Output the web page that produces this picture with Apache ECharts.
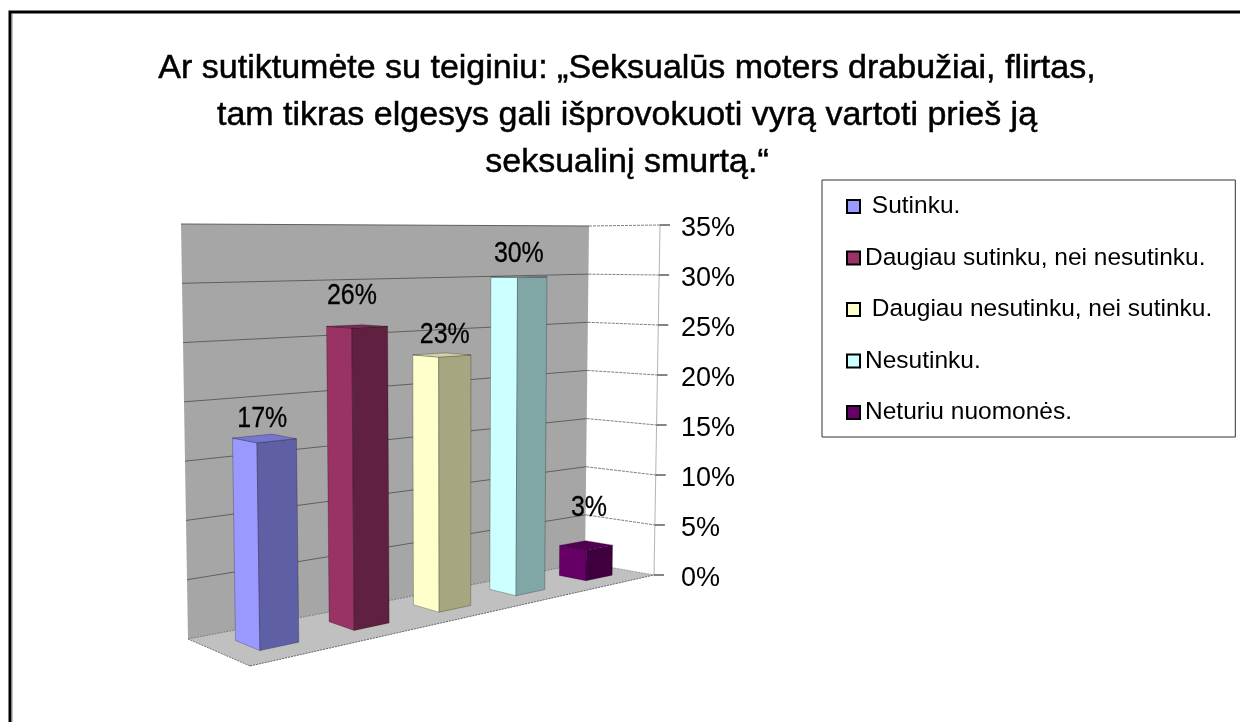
<!DOCTYPE html>
<html><head><meta charset="utf-8">
<style>html,body{margin:0;padding:0;background:#fff;overflow:hidden}#c{width:1240px;height:722px;filter:blur(0.4px)}</style>
<script src="https://cdn.jsdelivr.net/npm/echarts@6/dist/echarts.min.js"></script>
</head><body><div id="c"></div>
<script>
const categories = ["Sutinku.", "Daugiau sutinku, nei nesutinku.", "Daugiau nesutinku, nei sutinku.", "Nesutinku.", "Neturiu nuomonės."];
const legendNames = [" Sutinku.", "Daugiau sutinku, nei nesutinku.", " Daugiau nesutinku, nei sutinku.", "Nesutinku.", "Neturiu nuomonės."];
const values = [17, 26, 23, 30, 3];
const yTicks = [0, 5, 10, 15, 20, 25, 30, 35];
const titleLines = ["Ar sutiktumėte su teiginiu: „Seksualūs moters drabužiai, flirtas,", "tam tikras elgesys gali išprovokuoti vyrą vartoti prieš ją", "seksualinį smurtą.“"];

const sideColors = ['#9999ff', '#993366', '#ffffcc', '#ccffff', '#660066'];
const frontColors = ['#5f5fa6', '#602040', '#a6a680', '#80a6a6', '#400040'];
const topColors = ['#7676cc', '#7a2a52', '#d2d2a6', '#a6d2d2', '#520052'];
const labelShift = [[-2, -19], [-5, -30], [3, -20], [0, -23], [3, -37]];

const FONT = '"Liberation Sans", Arial, sans-serif';
const gl = 200, gr = 661, gt = 225, gb = 575;
// box corners: front/back, bottom/top, left/right
const FLB = [250, 666], FRB = [654, 575], BLB = [188, 639], BRB = [585, 563];
const FLT = [243, 222], FRT = [660, 225], BLT = [181, 224], BRT = [589, 226];
const K = 0.28, HALF = 0.04, DF = 0.33, DB = 0.72;
const lerp = (a, b, t) => [a[0] + (b[0] - a[0]) * t, a[1] + (b[1] - a[1]) * t];
const warp = u => (1 + K) * u / (1 + K * u);
function project(u, vf, d) {
  const w = warp(u);
  const floor = lerp(lerp(FLB, FRB, w), lerp(BLB, BRB, w), d);
  const ceil = lerp(lerp(FLT, FRT, w), lerp(BLT, BRT, w), d);
  return lerp(floor, ceil, vf);
}
const poly = (pts, fill, stroke, lw) => ({type: 'polygon', shape: {points: pts}, silent: true,
  style: {fill: fill, stroke: stroke || null, lineWidth: lw || 0}});
const line = (a, b, stroke, lw, dash) => ({type: 'line', shape: {x1: a[0], y1: a[1], x2: b[0], y2: b[1]}, silent: true,
  style: {stroke: stroke, lineWidth: lw, lineDash: dash || null, fill: null}});

function renderFrame(params, api) {
  const v = api.value(0);
  const vf = (gb - api.coord([0, v])[1]) / (gb - gt);
  const kids = [];
  if (params.dataIndex === 0) {
    kids.push(poly([BLB, BLT, BRT, BRB], '#a6a6a6'));
    kids.push(poly([FLB, BLB, BRB, FRB], '#c0c0c0'));
    kids.push(line(FRB, FRT, '#b4b4b4', 1));
    kids.push(line(FLB, FRB, '#666', 1, [2, 1]));
    kids.push(line(FLB, BLB, '#777', 1, [2, 1]));
    kids.push(line(BLB, BRB, '#777', 1, [2, 1]));
    kids.push(line(BRB, FRB, '#999', 1, [2, 1]));
  }
  const pl = project(0, vf, 1), pr = project(1, vf, 1), pf = project(1, vf, 0);
  if (v > 0) {
    kids.push(line(pl, pr, '#606060', 1));
    kids.push(line(pr, pf, '#808080', 1, [3, 1]));
  }
  kids.push(line(pf, [pf[0] + 10, pf[1]], '#333', 1.2));
  return {type: 'group', children: kids};
}
function renderBar(params, api) {
  const i = api.value(0), v = api.value(1);
  const c = api.coord([i, v]);
  const c0 = api.coord([i, 0]);
  const u = (c0[0] - gl) / (gr - gl);
  const vf = (gb - c[1]) / (gb - gt);
  const ul = u - HALF, ur = u + HALF;
  const A0 = project(ul, 0, DB), B0 = project(ul, 0, DF), C0 = project(ur, 0, DF);
  const A1 = project(ul, vf, DB), B1 = project(ul, vf, DF), C1 = project(ur, vf, DF), D1 = project(ur, vf, DB);
  const edge = 'rgba(0,0,0,0.35)';
  const mid = lerp(B1, D1, 0.5);
  return {type: 'group', children: [
    poly([A0, B0, B1, A1], sideColors[i], edge, 0.7),
    poly([B0, C0, C1, B1], frontColors[i], edge, 0.7),
    poly([A1, B1, C1, D1], topColors[i], edge, 0.7),
    {type: 'text', silent: true, z2: 50, x: mid[0] + labelShift[i][0], y: mid[1] + labelShift[i][1], scaleX: 0.86,
      style: {text: v + '%', x: 0, y: 0, align: 'center', verticalAlign: 'middle',
        font: '29px ' + FONT, fill: '#000', stroke: '#000', lineWidth: 0.3}}
  ]};
}
const barSeries = values.map((v, i) => ({
  type: 'custom', name: legendNames[i], coordinateSystem: 'cartesian2d', renderItem: renderBar,
  itemStyle: {color: sideColors[i], borderColor: '#000', borderWidth: 2},
  encode: {x: 0, y: 1}, data: [[i, v]], clip: false, animation: false, z: 3
}));
const chart = echarts.init(document.getElementById('c'), null, {renderer: 'canvas'});
chart.setOption({
  animation: false, backgroundColor: '#fff',
  title: {text: titleLines.join('\n'), left: 627, top: 45, textAlign: 'center', itemGap: 0, padding: 0,
    textStyle: {fontFamily: FONT, fontSize: 34, fontWeight: 'normal', color: '#000', lineHeight: 47, textBorderColor: '#000', textBorderWidth: 0.5}},
  legend: {orient: 'vertical', left: 822, top: 180, data: legendNames, icon: 'rect', itemWidth: 13, itemHeight: 13,
    itemGap: 26.5, padding: [14, 23, 12, 24], borderColor: '#333', borderWidth: 1, backgroundColor: '#fff', selectedMode: false,
    textStyle: {fontFamily: FONT, fontSize: 24.5, color: '#000'}},
  grid: {left: gl, right: 1240 - gr, top: gt, bottom: 722 - gb},
  xAxis: {type: 'category', data: categories, show: false},
  yAxis: {type: 'value', position: 'right', min: 0, max: 35, interval: 5,
    axisLine: {show: false}, axisTick: {show: false}, splitLine: {show: false},
    axisLabel: {margin: 20, formatter: '{a|{value}%}', rich: {a: {fontFamily: FONT, fontSize: 27, color: '#000', padding: [7, 0, 0, 0]}}}},
  graphic: [
    {type: 'rect', silent: true, z: 100, shape: {x: 10, y: 12, width: 1300, height: 800}, style: {fill: null, stroke: '#000', lineWidth: 3}},
    {type: 'line', silent: true, z: 100, shape: {x1: 12, y1: 14, x2: 12, y2: 722}, style: {stroke: '#888', lineWidth: 1}}
  ],
  series: [{type: 'custom', coordinateSystem: 'cartesian2d', renderItem: renderFrame, encode: {y: 0},
    data: yTicks.map(t => [t]), clip: false, animation: false, z: 1}].concat(barSeries)
});
</script></body></html>
